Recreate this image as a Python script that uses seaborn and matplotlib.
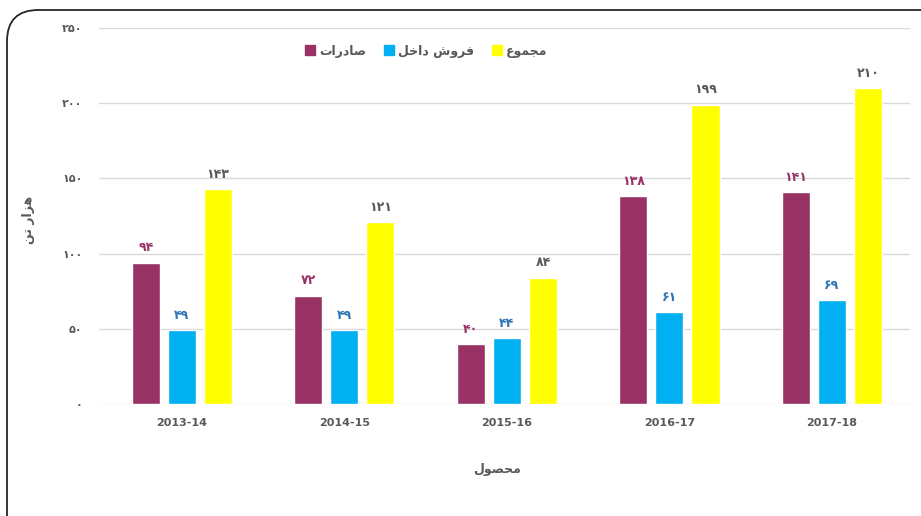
import pandas as pd
import matplotlib.pyplot as plt
import seaborn as sns
from matplotlib.lines import Line2D
from matplotlib.patches import FancyBboxPatch

# Data
years = ["2013-14", "2014-15", "2015-16", "2016-17", "2017-18"]
exports = [94, 72, 40, 138, 141]
domestic = [49, 49, 44, 61, 69]
total = [143, 121, 84, 199, 210]
series_names = ["صادرات", "فروش داخل", "مجموع"]
y_ticks = [0, 50, 100, 150, 200, 250]

colors = ["#993366", "#00B0F0", "#FFFF00"]
label_colors = ["#993366", "#2E75B6", "#595959"]
TEXT = "#595959"

# minimal Arabic/Persian shaping (matplotlib does no shaping or bidi)
FORMS = {
    "ا": ("\uFE8D", "\uFE8E", None, None),
    "ت": ("\uFE95", "\uFE96", "\uFE97", "\uFE98"),
    "ج": ("\uFE9D", "\uFE9E", "\uFE9F", "\uFEA0"),
    "ح": ("\uFEA1", "\uFEA2", "\uFEA3", "\uFEA4"),
    "خ": ("\uFEA5", "\uFEA6", "\uFEA7", "\uFEA8"),
    "د": ("\uFEA9", "\uFEAA", None, None),
    "ر": ("\uFEAD", "\uFEAE", None, None),
    "ز": ("\uFEAF", "\uFEB0", None, None),
    "ش": ("\uFEB5", "\uFEB6", "\uFEB7", "\uFEB8"),
    "ص": ("\uFEB9", "\uFEBA", "\uFEBB", "\uFEBC"),
    "ع": ("\uFEC9", "\uFECA", "\uFECB", "\uFECC"),
    "ف": ("\uFED1", "\uFED2", "\uFED3", "\uFED4"),
    "ل": ("\uFEDD", "\uFEDE", "\uFEDF", "\uFEE0"),
    "م": ("\uFEE1", "\uFEE2", "\uFEE3", "\uFEE4"),
    "ن": ("\uFEE5", "\uFEE6", "\uFEE7", "\uFEE8"),
    "ه": ("\uFEE9", "\uFEEA", "\uFEEB", "\uFEEC"),
    "و": ("\uFEED", "\uFEEE", None, None),
}


def shape(text):
    out = []
    for i, ch in enumerate(text):
        if ch not in FORMS:
            out.append(ch)
            continue
        prev = text[i - 1] if i > 0 else None
        nxt = text[i + 1] if i + 1 < len(text) else None
        iso, fin, ini, med = FORMS[ch]
        jp = prev in FORMS and FORMS[prev][2] is not None
        jn = nxt in FORMS and ini is not None
        if jp and jn:
            out.append(med)
        elif jp:
            out.append(fin)
        elif jn:
            out.append(ini)
        else:
            out.append(iso)
    return "".join(reversed(out))


FA_DIGITS = str.maketrans("0123456789", "۰۱۲۳۴۵۶۷۸۹")


def fa(n):
    return str(n).translate(FA_DIGITS)


df = pd.DataFrame({
    "year": years * 3,
    "value": exports + domestic + total,
    "series": [s for s in series_names for _ in years],
})

sns.set_style("white")
plt.rcParams["font.family"] = ["DejaVu Sans"]

fig = plt.figure(figsize=(9.21, 5.16), dpi=100)
ax = fig.add_axes([0.1075, 0.217, 0.8805, 0.7287])

sns.barplot(data=df, x="year", y="value", hue="series", hue_order=series_names,
            palette=colors, saturation=1, width=0.665, gap=0.22, legend=False, ax=ax)

for cont, lc in zip(ax.containers, label_colors):
    vals = [int(round(b.get_height())) for b in cont]
    ax.bar_label(cont, labels=[fa(v) for v in vals], padding=6, color=lc,
                 fontsize=9, fontweight="bold")

ax.set_ylim(0, 250)
ax.set_xlim(-0.51, 4.48)
ax.set_yticks(y_ticks)
ax.set_yticklabels([fa(t) for t in y_ticks], color=TEXT, fontsize=8, fontweight="bold")
ax.tick_params(axis="y", length=0, pad=12)
ax.tick_params(axis="x", length=0, pad=10, labelsize=8, labelcolor=TEXT)
for lbl in ax.get_xticklabels():
    lbl.set_fontweight("bold")
ax.grid(axis="y", color="#D9D9D9", linewidth=1)
ax.set_axisbelow(True)
for s in ax.spines.values():
    s.set_visible(False)

ax.set_xlabel(shape("محصول"), color=TEXT, fontsize=9, fontweight="bold")
ax.xaxis.set_label_coords(0.491, -0.157)
ax.set_ylabel(shape("هزار تن"), color=TEXT, fontsize=9, fontweight="bold")
ax.yaxis.set_label_coords(-0.079, 0.49)

handles = [Line2D([], [], marker="s", linestyle="none", markersize=7.5,
                  markerfacecolor=c, markeredgecolor=c) for c in colors]
ax.legend(handles, [shape(s) for s in series_names], ncol=3, loc="center",
          bbox_to_anchor=(0.402, 0.938), frameon=False, handletextpad=0.15,
          handlelength=1.2, columnspacing=1.2,
          prop={"size": 9, "weight": "bold"}, labelcolor=TEXT)

# rounded frame around the chart
frame = FancyBboxPatch((7 / 921, -0.2), 1.2, 0.2 + (516 - 10) / 516,
                       boxstyle="round,pad=0,rounding_size=0.034",
                       transform=fig.transFigure, fill=False,
                       edgecolor="#262626", linewidth=1.3, mutation_aspect=921 / 516)
fig.patches.append(frame)

fig.savefig("out.png", dpi=100)
